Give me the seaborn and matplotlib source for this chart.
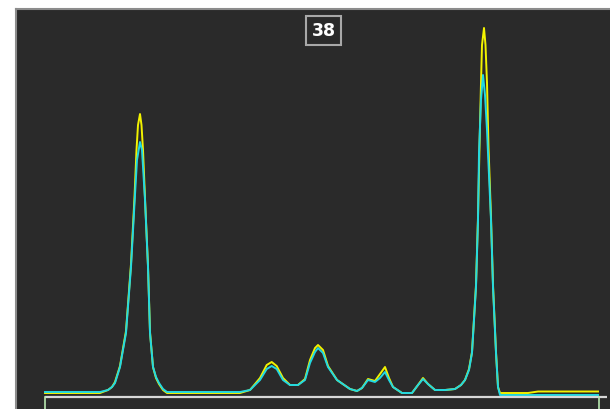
import numpy as np
import pandas as pd
import matplotlib
matplotlib.use("Agg")
import matplotlib.pyplot as plt
import seaborn as sns

# Trace values (position, intensity)
cyan_x = [45, 100, 108, 112, 115, 120, 126, 131, 134.7, 137, 140, 142, 145, 148, 150, 153, 156,
          159, 163, 167, 240, 250, 260, 266.7, 271.7, 276.7, 283, 290, 298, 305, 310, 315, 318,
          323, 328, 337, 350, 357, 362, 368, 375, 380, 385, 389, 393, 402, 412, 418, 423, 428,
          435, 445, 455, 461, 465, 469, 472, 476, 478, 479, 481, 483, 485, 487, 488, 491, 493,
          496, 498, 500, 598]
cyan_y = [5, 5, 7, 10, 14, 30, 64, 130, 197, 237, 255, 247, 197, 130, 64, 30, 20,
          14, 8, 5, 5, 7, 17, 28, 31, 28, 17, 12, 12, 17, 34, 45, 49,
          44, 30, 17, 8, 6, 9, 17, 15, 19, 25, 17, 10, 4, 4, 12, 18, 13,
          7, 7, 8, 12, 17, 27, 44, 110, 177, 244, 297, 322, 302, 267, 244, 177, 110,
          44, 10, 2, 2]

yellow_x = [45, 100, 108, 112, 115, 120, 126, 131, 134.5, 136.5, 138, 140, 141.5, 143, 145, 148,
            150, 153, 156, 159, 163, 167, 240, 250, 260, 266.7, 271.7, 276.7, 283, 290, 298, 305,
            310, 315, 318, 323, 328, 337, 350, 357, 362, 368, 375, 380, 385, 389, 393, 402, 412,
            418, 423, 428, 435, 445, 455, 461, 465, 469, 472, 476, 478, 479.5, 481, 482, 484,
            485.5, 487, 488.5, 491, 493, 496, 498, 500, 528, 538, 598]
yellow_y = [4, 4, 7, 10, 15, 31, 66, 133, 200, 247, 272, 283, 272, 247, 199, 131,
            65, 30, 19, 13, 7, 4, 4, 7, 19, 32, 35, 31, 19, 12, 12, 18,
            37, 49, 52, 47, 31, 17, 8, 6, 9, 18, 16, 23, 30, 19, 10, 4, 4,
            12, 19, 13, 7, 7, 8, 12, 17, 28, 45, 112, 180, 250, 314, 352, 369,
            352, 314, 250, 180, 112, 45, 10, 4, 4, 5.5, 5.5]

badge_text = "38"

df = pd.concat([
    pd.DataFrame({"pos": yellow_x, "val": yellow_y, "trace": "yellow"}),
    pd.DataFrame({"pos": cyan_x, "val": cyan_y, "trace": "cyan"}),
])

fig = plt.figure(figsize=(6.10, 4.09), dpi=100)
fig.patch.set_facecolor("white")
ax = fig.add_axes([16 / 610, 0, 594 / 610, 400 / 409])
ax.set_facecolor("#2a2a2a")

sns.lineplot(data=df, x="pos", y="val", hue="trace", sort=False,
             palette={"yellow": "#f2f200", "cyan": "#22d8e2"},
             hue_order=["yellow", "cyan"], linewidth=1.4, legend=False, ax=ax)

# baseline box
ax.plot([45, 607], [0, 0], color="#d8d8d8", linewidth=1.6, solid_capstyle="butt")
ax.plot([45, 45], [0, -15], color="#b8e8b0", linewidth=1.2)
ax.plot([599, 599], [0, -15], color="#b8e8b0", linewidth=1.2)

ax.set_xlim(16, 610)
ax.set_ylim(-12, 388)
ax.set_xticks([])
ax.set_yticks([])
ax.set_xlabel("")
ax.set_ylabel("")
for side in ["bottom", "right"]:
    ax.spines[side].set_visible(False)
for side in ["left", "top"]:
    ax.spines[side].set_color("#8c8c8c")
    ax.spines[side].set_linewidth(1.5)

fig.text(323.5 / 610, 1 - 30.5 / 409, badge_text, color="white", fontsize=12.5,
         fontweight="bold", ha="center", va="center",
         bbox=dict(boxstyle="square,pad=0.3", facecolor="#2a2a2a",
                   edgecolor="#a8a8a8", linewidth=1.5))

fig.savefig("out.png", dpi=100, facecolor="white")
